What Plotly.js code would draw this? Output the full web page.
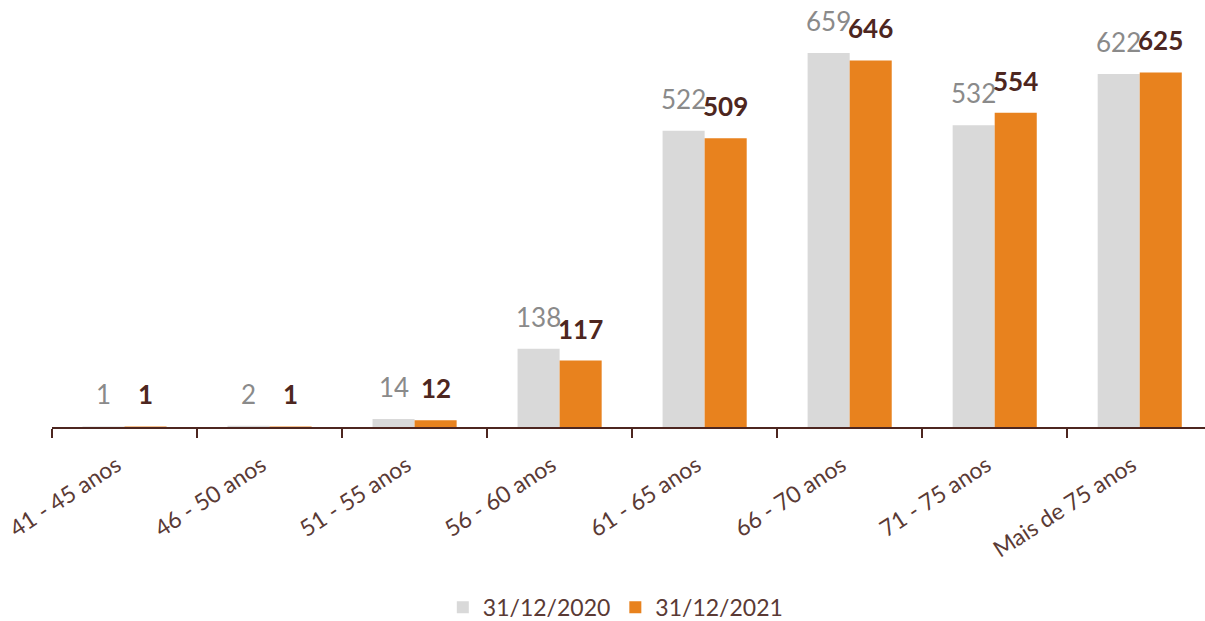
<!DOCTYPE html>
<html>
<head>
<meta charset="utf-8">
<script src="https://cdn.plot.ly/plotly-3.0.1.min.js"></script>
<style>html,body{margin:0;padding:0;background:#fff;}#chart{width:1205px;height:621px;}</style>
</head>
<body>
<div id="chart"></div>
<script>
const categories = ["41 - 45 anos","46 - 50 anos","51 - 55 anos","56 - 60 anos","61 - 65 anos","66 - 70 anos","71 - 75 anos","Mais de 75 anos"];
const values2020 = [1, 2, 14, 138, 522, 659, 532, 622];
const values2021 = [1, 1, 12, 117, 509, 646, 554, 625];
const seriesNames = ["31/12/2020", "31/12/2021"];

const FONT = "Lato, 'Open Sans', sans-serif";
const BARGAP = 0.42;
const CAT_PX = 1153 / 7.95;
const SHIFT = CAT_PX * (1 - BARGAP) / 4;

const traces = [
  {
    type: "bar", x: categories, y: values2020, name: seriesNames[0],
    marker: {color: "#d9d9d9"}, hoverinfo: "none"
  },
  {
    type: "bar", x: categories, y: values2021, name: seriesNames[1],
    marker: {color: "#e8821e"}, hoverinfo: "none"
  }
];

const annotations = [];
categories.forEach((c, i) => {
  annotations.push({x: c, y: values2020[i], xref: "x", yref: "y", text: String(values2020[i]),
    showarrow: false, yanchor: "bottom", xanchor: "center", xshift: -SHIFT, yshift: 14,
    font: {family: FONT, size: 26, color: "#8a8a8a"}});
  annotations.push({x: c, y: values2021[i], xref: "x", yref: "y", text: "<b>" + values2021[i] + "</b>",
    showarrow: false, yanchor: "bottom", xanchor: "center", xshift: SHIFT, yshift: 14,
    font: {family: FONT, size: 26, color: "#4d2620"}});
});

const layout = {
  width: 1205, height: 621,
  margin: {l: 52, r: 0, t: 10, b: 194, autoexpand: false},
  paper_bgcolor: "#fff", plot_bgcolor: "#fff",
  font: {family: FONT, color: "#5a3a35"},
  barmode: "group", bargap: BARGAP, bargroupgap: 0,
  showlegend: true,
  legend: {orientation: "h", x: 0.489, xref: "paper", xanchor: "center", yref: "container", y: 0.022, yanchor: "middle",
           font: {family: FONT, size: 23, color: "#5a3a35"}, traceorder: "normal", itemwidth: 30},
  annotations: annotations,
  xaxis: {
    type: "category", tickangle: -33, range: [-0.5, 7.45], automargin: false,
    tickfont: {family: FONT, size: 23, color: "#5a3a35"},
    ticklabelstandoff: 14, ticklabelshift: -8,
    showline: true, linecolor: "#4d2620", linewidth: 2,
    ticks: "outside", ticklen: 9, tickwidth: 2, tickcolor: "#4d2620",
    tickson: "boundaries", showgrid: false, zeroline: false
  },
  yaxis: {range: [0, 735], visible: false, showgrid: false, zeroline: false, automargin: false}
};

Plotly.newPlot("chart", traces, layout, {displayModeBar: false, staticPlot: true});
</script>
</body>
</html>
